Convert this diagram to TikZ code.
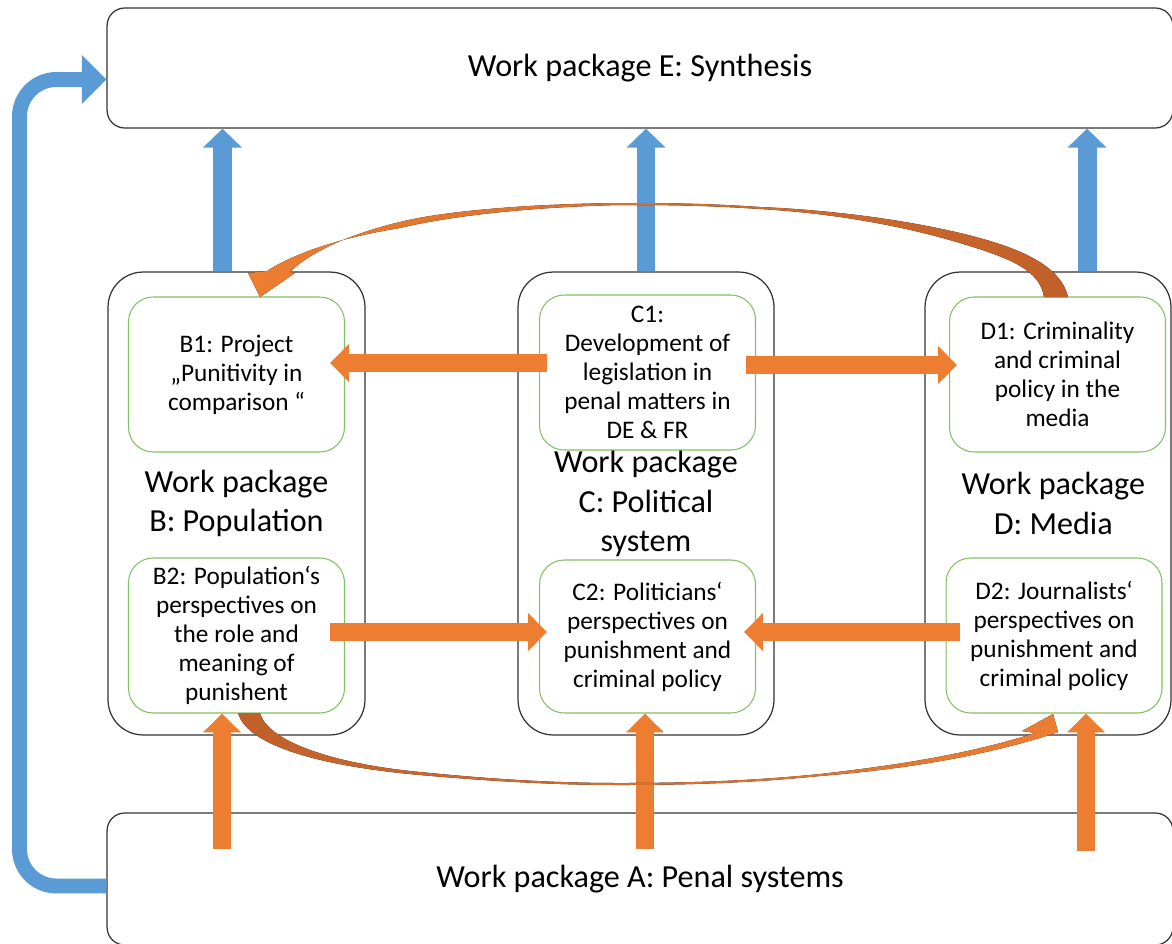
\documentclass[tikz,border=0pt]{standalone}
\usepackage{fontspec}
\setmainfont{Carlito}
\usepackage{tikz}
\usetikzlibrary{calc,arrows.meta}

\definecolor{wpblue}{HTML}{5B9BD5}
\definecolor{wporange}{HTML}{ED7D31}
\definecolor{wpdark}{HTML}{C0602A}
\definecolor{wpgreen}{HTML}{82C064}

\newcommand{\wpbig}{\fontsize{18.3}{22.4}\selectfont}
\newcommand{\wpsmall}{\fontsize{14.4}{16.5}\selectfont}

\tikzset{
  pkgbox/.style={draw=black!80, line width=0.7pt, rounded corners=10pt, fill=white, inner sep=0pt, align=center, font=\wpbig, minimum width=21.32cm},
  colbox/.style={pkgbox, rounded corners=20pt, minimum width=5.14cm, minimum height=9.26cm},
  subbox/.style={draw=wpgreen, line width=0.6pt, rounded corners=14pt, fill=white, inner sep=0pt, align=center, font=\wpsmall, minimum width=4.32cm, minimum height=3.1cm},
  bluearrow/.style={draw=wpblue, line width=10.8pt, -{Triangle[length=10.8pt,width=21.5pt]}},
  orangearrow/.style={draw=wporange, line width=10.2pt, -{Triangle[length=10.8pt,width=21pt]}},
}

\begin{document}
\begin{tikzpicture}[x=0.02cm,y=-0.02cm]
    \useasboundingbox (0,0) rectangle (1172,943);

    % work packages
    \node[pkgbox, minimum height=2.4cm] (E) at (640,68) {Work package E: Synthesis};
    \node[pkgbox, minimum height=2.64cm] (A) at (640,879) {Work package A: Penal systems};
    \node[colbox] (B) at (236.5,503.5) {Work package\\B: Population};
    \node[colbox, minimum width=5.12cm] (C) at (646,503.5) {Work package\\C: Political\\system};
    \node[colbox, minimum width=4.92cm] (D) at (1048,503.5) {\hspace*{6pt}Work package\\\hspace*{6pt}D: Media};

    % projects
    \node[subbox] (B1) at (236.5,374.5) {B1: Project\\„Punitivity in\\comparison “};
    \node[subbox] (B2) at (236.5,635.5) {B2: Population‘s\\perspectives on\\the role and\\meaning of\\punishent};
    \node[subbox] (C1) at (647.5,372.5) {C1:\\Development of\\legislation in\\penal matters in\\DE \& FR};
    \node[subbox, minimum height=3.06cm] (C2) at (647.5,636.5) {C2: Politicians‘\\perspectives on\\punishment and\\criminal policy};
    \node[subbox] (D1) at (1057.5,374.5) {D1: Criminality\\and criminal\\policy in the\\media};
    \node[subbox] (D2) at (1054,635.5) {D2: Journalists‘\\perspectives on\\punishment and\\criminal policy};

    % up to synthesis
    \draw[bluearrow] (222.5,0 |- B.north) -- (222.5,0 |- E.south);
    \draw[bluearrow] (646,0 |- C.north) -- (646,0 |- E.south);
    \draw[bluearrow] (1087,0 |- D.north) -- (1087,0 |- E.south);
    \draw[draw=wpblue, line width=8.5pt, rounded corners=21pt, -{Triangle[length=14pt,width=27pt]}]
        (A.west |- 0,886) -- (19.5,886) -- (19.5,79.5) -- (E.west |- 0,79.5);

    % between projects
    \draw[orangearrow] ([shift={(8,-9.5)}]C1.west) -- ([shift={(-15,-11.5)}]B1.east);
    \draw[orangearrow] ([shift={(-10,-7.5)}]C1.east) -- ([shift={(8,-9.5)}]D1.west);
    \draw[orangearrow] ([shift={(-15,-3.5)}]B2.east) -- ([shift={(8,-4.5)}]C2.west);
    \draw[orangearrow] ([shift={(14,-3.5)}]D2.west) -- ([shift={(-12,-4.5)}]C2.east);

    % from penal systems
    \draw[orangearrow] ($(A.north -| 222,0)+(0,37)$) -- (222,0 |- B2.south);
    \draw[orangearrow] ($(A.north -| 645,0)+(0,37)$) -- (645,0 |- C2.south);
    \draw[orangearrow] ($(A.north -| 1086,0)+(0,39)$) -- (1086,0 |- D2.south);

    % curved arrows
    \fill[left color=wporange, middle color=wpdark, right color=wpdark]
        (1068,297) .. controls (1060,262) and (1010,245) .. (960,233)
        .. controls (900,219) and (830,210) .. (760,207)
        .. controls (700,203) and (660,203) .. (620,203)
        .. controls (520,204) and (440,212) .. (400,222)
        .. controls (350,234) and (310,252) .. (290,272)
        -- (295,273) -- (260,297) -- (248,273) -- (267,271)
        .. controls (300,250) and (350,236) .. (400,228)
        .. controls (450,216) and (530,207) .. (620,205)
        .. controls (660,205) and (700,205) .. (760,209)
        .. controls (830,213) and (900,225) .. (960,243)
        .. controls (1010,258) and (1040,270) .. (1044,297) -- cycle;
    \fill[left color=wpdark, middle color=wpdark, right color=wporange]
        (238,713) .. controls (248,748) and (330,767) .. (420,775)
        .. controls (500,782) and (560,785) .. (620,785)
        .. controls (700,785) and (760,782) .. (820,776)
        .. controls (880,771) and (960,762) .. (1043,737)
        -- (1058,732) -- (1053,714) -- (1022,731) -- (1035,733)
        .. controls (960,757) and (880,767) .. (820,774)
        .. controls (760,780) and (700,783) .. (620,783)
        .. controls (560,783) and (500,780) .. (420,772)
        .. controls (335,764) and (268,742) .. (260,713) -- cycle;
\end{tikzpicture}
\end{document}
